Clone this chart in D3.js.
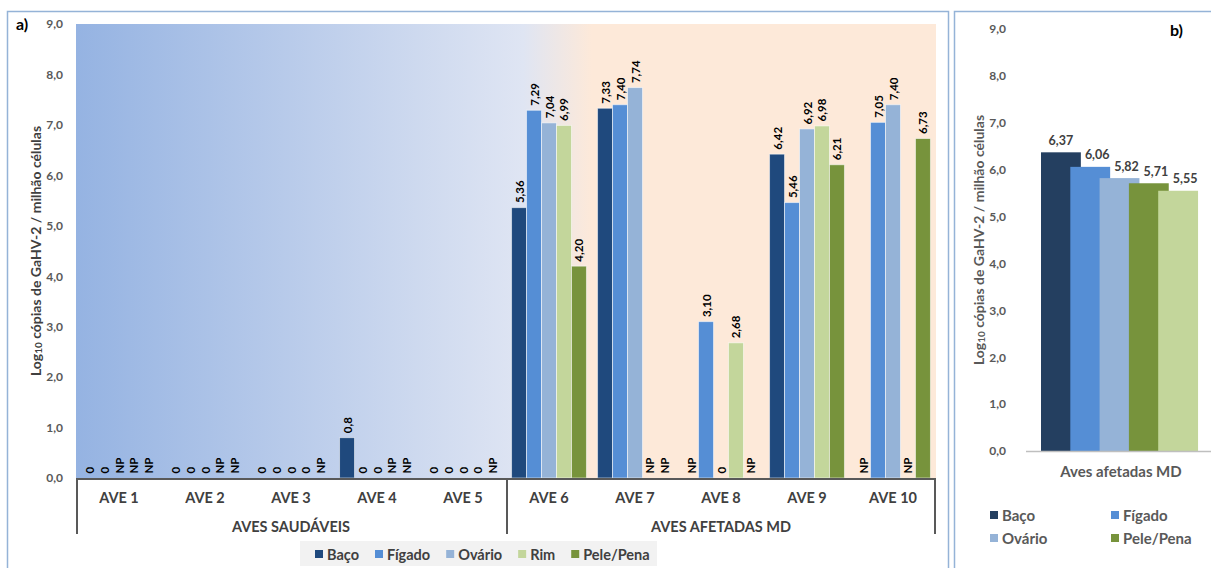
<!DOCTYPE html>
<html>
<head>
<meta charset="utf-8">
<script src="https://cdn.jsdelivr.net/npm/d3@7"></script>
<style>
body { margin: 0; background: #fff; }
text { font-family: Lato, "Open Sans", sans-serif; font-weight: bold; }
</style>
</head>
<body>
<svg id="chart" width="1211" height="568"></svg>
<script>
// ---- data (as printed in the chart) ----
var organs = ["Baço", "Fígado", "Ovário", "Rim", "Pele/Pena"];
var aves = ["AVE 1", "AVE 2", "AVE 3", "AVE 4", "AVE 5", "AVE 6", "AVE 7", "AVE 8", "AVE 9", "AVE 10"];
var groupNames = ["AVES SAUDÁVEIS", "AVES AFETADAS MD"];
var groupSizes = [5, 5];

var baco   = ["0", "0", "0", "0,8", "0", "5,36", "7,33", "NP", "6,42", "NP"];
var figado = ["0", "0", "0", "0", "0", "7,29", "7,40", "3,10", "5,46", "7,05"];
var ovario = ["NP", "0", "0", "0", "0", "7,04", "7,74", "0", "6,92", "7,40"];
var rim    = ["NP", "NP", "0", "NP", "0", "6,99", "NP", "2,68", "6,98", "NP"];
var pele   = ["NP", "NP", "NP", "NP", "NP", "4,20", "NP", "NP", "6,21", "6,73"];

// panel b: mean of affected birds
var organsB = ["Baço", "Fígado", "Ovário", "Pele/Pena", "Rim"];
var meansB = [6.37, 6.06, 5.82, 5.71, 5.55];
var legendB = ["Baço", "Fígado", "Ovário", "Pele/Pena"];

var yTicks = [0, 1, 2, 3, 4, 5, 6, 7, 8, 9];

var colorsA = {"Baço": "#1f497d", "Fígado": "#558ed5", "Ovário": "#95b3d7", "Rim": "#c3d69b", "Pele/Pena": "#77933c"};
var colorsB = {"Baço": "#243f60", "Fígado": "#558ed5", "Ovário": "#95b3d7", "Rim": "#c3d69b", "Pele/Pena": "#77933c"};

var series = [baco, figado, ovario, rim, pele];
var locale = d3.formatLocale({decimal: ",", thousands: ".", grouping: [3], currency: ["", ""]});
var fmt1 = locale.format(".1f");
var fmt2 = locale.format(".2f");
function num(s) { return s === "NP" ? 0 : +s.replace(",", "."); }

var svg = d3.select("#chart");

// panel frames
svg.append("rect").attr("x", 7.5).attr("y", 11.5).attr("width", 941).attr("height", 600)
  .attr("fill", "none").attr("stroke", "#95b3d7").attr("stroke-width", 1.5);
svg.append("rect").attr("x", 954.5).attr("y", 11.5).attr("width", 300).attr("height", 600)
  .attr("fill", "none").attr("stroke", "#95b3d7").attr("stroke-width", 1.5);

// ================= panel a =================
var xA = d3.scaleBand().domain(aves).range([76, 936]);
var xInner = d3.scaleBand().domain(organs).range([0, xA.bandwidth()]).paddingOuter(0.37);
var yA = d3.scaleLinear().domain([0, 9]).range([478, 24]);

var grad = svg.append("defs").append("linearGradient")
  .attr("id", "bgA").attr("gradientUnits", "userSpaceOnUse")
  .attr("x1", 76).attr("x2", 936).attr("y1", 0).attr("y2", 0);
grad.append("stop").attr("offset", "0").attr("stop-color", "#95b3e2");
grad.append("stop").attr("offset", "0.52").attr("stop-color", "#dfe5f3");
grad.append("stop").attr("offset", "0.6").attr("stop-color", "#fde9d9");
grad.append("stop").attr("offset", "1").attr("stop-color", "#fde9d9");

svg.append("rect").attr("x", 76).attr("y", yA(9)).attr("width", 860).attr("height", yA(0) - yA(9))
  .attr("fill", "url(#bgA)");

var cells = [];
aves.forEach(function(a, gi) {
  organs.forEach(function(o, si) {
    cells.push({ave: a, organ: o, label: series[si][gi], value: num(series[si][gi])});
  });
});

svg.selectAll("rect.barA")
  .data(cells.filter(function(d) { return d.value > 0; }))
  .enter().append("rect")
  .attr("class", "barA")
  .attr("x", function(d) { return xA(d.ave) + xInner(d.organ); })
  .attr("width", xInner.bandwidth())
  .attr("y", function(d) { return yA(d.value); })
  .attr("height", function(d) { return yA(0) - yA(d.value); })
  .attr("fill", function(d) { return colorsA[d.organ]; })
  .attr("stroke", "rgba(255,255,255,0.55)")
  .attr("stroke-width", 1);

svg.selectAll("text.lblA")
  .data(cells)
  .enter().append("text")
  .attr("class", "lblA")
  .attr("transform", function(d) {
    var cx = xA(d.ave) + xInner(d.organ) + xInner.bandwidth() / 2;
    return "translate(" + cx + "," + (yA(d.value) - 4.5) + ") rotate(-90)";
  })
  .attr("dominant-baseline", "central")
  .attr("font-size", 11.5)
  .attr("fill", "#000")
  .text(function(d) { return d.label; });

// y axis a
var yAxisA = svg.append("g").attr("transform", "translate(63,0)")
  .call(d3.axisLeft(yA).tickValues(yTicks).tickFormat(fmt1).tickSize(0).tickPadding(0));
yAxisA.select(".domain").remove();
yAxisA.selectAll("text").attr("font-size", 12).attr("fill", "#595959")
  .style("font-family", "Lato, sans-serif").style("font-weight", "bold");

// category axis a
svg.append("line").attr("x1", 76).attr("x2", 936).attr("y1", yA(0) + 1).attr("y2", yA(0) + 1)
  .attr("stroke", "#595959").attr("stroke-width", 2);
var sepX = [0];
groupSizes.forEach(function(n, i) { sepX.push(sepX[i] + n); });
svg.selectAll("line.sep").data(sepX).enter().append("line")
  .attr("class", "sep")
  .attr("x1", function(k) { return k < aves.length ? xA(aves[k]) + 1 : xA(aves[k - 1]) + xA.bandwidth() - 1; })
  .attr("x2", function(k) { return k < aves.length ? xA(aves[k]) + 1 : xA(aves[k - 1]) + xA.bandwidth() - 1; })
  .attr("y1", yA(0)).attr("y2", 534)
  .attr("stroke", "#595959").attr("stroke-width", 2);

svg.selectAll("text.ave").data(aves).enter().append("text")
  .attr("class", "ave")
  .attr("x", function(d) { return xA(d) + xA.bandwidth() / 2; })
  .attr("y", 497).attr("dominant-baseline", "central").attr("text-anchor", "middle")
  .attr("font-size", 14.5).attr("fill", "#404040")
  .text(function(d) { return d; });

svg.selectAll("text.grp").data(groupNames).enter().append("text")
  .attr("class", "grp")
  .attr("x", function(d, i) {
    var a0 = xA(aves[sepX[i]]), a1 = xA(aves[sepX[i + 1] - 1]) + xA.bandwidth();
    return (a0 + a1) / 2;
  })
  .attr("y", 526).attr("dominant-baseline", "central").attr("text-anchor", "middle")
  .attr("font-size", 14.5).attr("fill", "#404040")
  .text(function(d) { return d; });

// y title
function yTitle(x, y, color) {
  var t = svg.append("text").attr("transform", "translate(" + x + "," + y + ") rotate(-90)")
    .attr("text-anchor", "middle").attr("dominant-baseline", "central")
    .attr("font-size", 14).attr("fill", color);
  t.append("tspan").text("Log");
  t.append("tspan").attr("font-size", 10).attr("dy", 3).text("10");
  t.append("tspan").attr("dy", -3).text(" cópias de GaHV-2 / milhão células");
}
yTitle(35, 251, "#404040");

svg.append("text").attr("x", 16).attr("y", 30).attr("font-size", 16).attr("fill", "#000").text("a)");

// legend a
var legA = svg.append("g");
legA.append("rect").attr("x", 300).attr("y", 541).attr("width", 357).attr("height", 25).attr("fill", "#f2f2f2");
var lx = 315;
organs.forEach(function(o) {
  legA.append("rect").attr("x", lx).attr("y", 550).attr("width", 8).attr("height", 8).attr("fill", colorsA[o]);
  var t = legA.append("text").attr("x", lx + 12).attr("y", 554).attr("dominant-baseline", "central")
    .attr("font-size", 14.5).attr("fill", "#404040").text(o);
  lx += 12 + t.node().getComputedTextLength() + 16;
});

// ================= panel b =================
var yB = d3.scaleLinear().domain([0, 9]).range([451, 29]);
var xB = d3.scaleBand().domain(organsB).range([1041, 1041 + 5 * 29.3]);
var wB = xB.bandwidth() * 1.36;

svg.selectAll("rect.barB").data(meansB).enter().append("rect")
  .attr("class", "barB")
  .attr("x", function(d, i) { return xB(organsB[i]); })
  .attr("width", wB)
  .attr("y", function(d) { return yB(d); })
  .attr("height", function(d) { return yB(0) - yB(d); })
  .attr("fill", function(d, i) { return colorsB[organsB[i]]; });

svg.selectAll("text.lblB").data(meansB).enter().append("text")
  .attr("class", "lblB")
  .attr("x", function(d, i) { return xB(organsB[i]) + wB / 2 + (i > 0 ? 7 : 0); })
  .attr("y", function(d) { return yB(d) - 12; })
  .attr("text-anchor", "middle").attr("dominant-baseline", "central")
  .attr("font-size", 12.5).attr("fill", "#404040")
  .text(function(d) { return fmt2(d); });

svg.append("line").attr("x1", 1026).attr("x2", 1211).attr("y1", yB(0) + 0.5).attr("y2", yB(0) + 0.5)
  .attr("stroke", "#bfbfbf").attr("stroke-width", 1.5);

var yAxisB = svg.append("g").attr("transform", "translate(1006,0)")
  .call(d3.axisLeft(yB).tickValues(yTicks).tickFormat(fmt1).tickSize(0).tickPadding(0));
yAxisB.select(".domain").remove();
yAxisB.selectAll("text").attr("font-size", 12).attr("fill", "#595959")
  .style("font-family", "Lato, sans-serif").style("font-weight", "bold");

yTitle(978, 240, "#595959");

svg.append("text").attr("x", 1121).attr("y", 471).attr("text-anchor", "middle").attr("dominant-baseline", "central")
  .attr("font-size", 15).attr("fill", "#595959").text("Aves afetadas MD");

svg.append("text").attr("x", 1170).attr("y", 36).attr("font-size", 16).attr("fill", "#000").text("b)");

var legBg = svg.append("g");
legendB.forEach(function(o, i) {
  var col = i % 2, row = Math.floor(i / 2);
  var x0 = col === 0 ? 990 : 1111, yc = 515 + row * 23;
  legBg.append("rect").attr("x", x0).attr("y", yc - 4).attr("width", 8).attr("height", 8).attr("fill", colorsB[o]);
  legBg.append("text").attr("x", x0 + 12).attr("y", yc).attr("dominant-baseline", "central")
    .attr("font-size", 15).attr("fill", "#595959").text(o);
});
</script>
</body>
</html>
